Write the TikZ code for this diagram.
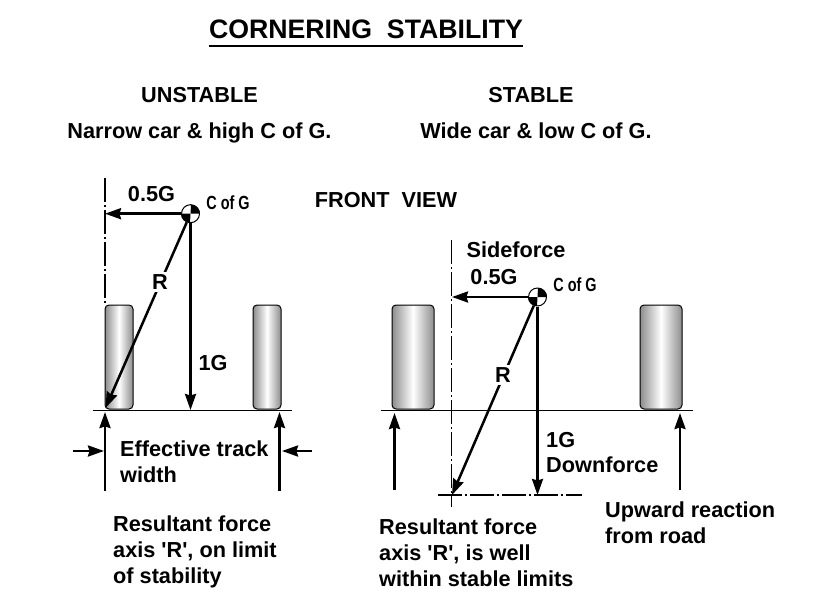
\documentclass[tikz,border=0pt]{standalone}
\usepackage{fontspec}
\setmainfont{Liberation Sans}[Ligatures=TeXOff]
\usetikzlibrary{arrows.meta}
\tikzset{
  lbl/.style={font=\bfseries\fontsize{21.7}{25.6}\selectfont, inner sep=0pt, align=left},
  coglbl/.style={font=\bfseries\fontsize{19}{23}\selectfont, xscale=.76, inner sep=0pt},
  wheel/.style={draw=black, line width=1pt, rounded corners=4pt, minimum height=104pt, inner sep=0pt, left color=black!45, right color=black!45, middle color=white},
  ground/.style={line width=1.3pt},
  axisline/.style={line width=1.2pt, dash pattern=on 24pt off 3pt on 2pt off 3pt},
  force/.style={line width=2.5pt, -{Stealth[length=16pt,width=11pt,inset=1.5pt]}},
  cogmark/.style={circle, draw=black, line width=1pt, fill=white, minimum size=18pt, inner sep=0pt}
}
\newcommand{\cogfill}[1]{%
  \fill[black] (#1.center) -- (#1.west) arc (180:90:9) -- cycle;
  \fill[black] (#1.center) -- (#1.east) arc (0:-90:9) -- cycle;
}
\begin{document}
\begin{tikzpicture}[x=1pt, y=-1pt, line join=round]
\useasboundingbox (0,0) rectangle (816,615);
% headings
\node[lbl, font=\bfseries\fontsize{26.7}{30}\selectfont] (title) at (366,29) {CORNERING\ \ STABILITY};
\coordinate (tl) at (209,46); \coordinate (tr) at (523,46);
\draw[line width=2.6pt] (tl) -- (tr);
\node[lbl] (unst) at (199.5,95) {UNSTABLE};
\node[lbl] (st) at (531,95) {STABLE};
\node[lbl] (narrow) at (199.5,133) {Narrow car \& high C of G.};
\node[lbl] (wide) at (536,131) {Wide car \& low C of G.};
\node[lbl] (front) at (386,200) {FRONT\ \ VIEW};
% unstable car
\node[wheel, minimum width=28pt] (wl1) at (119,357) {};
\node[wheel, minimum width=28pt] (wr1) at (267,357) {};
\coordinate (g1a) at (93,410.7); \coordinate (g1b) at (292,410.7);
\draw[ground] (g1a) -- (g1b);
\coordinate (ax1a) at (105,178); \coordinate (ax1b) at (105,305);
\draw[axisline] (ax1a) -- (ax1b);
\node[cogmark] (cg1) at (190.5,213.7) {};
\coordinate (sd1) at (105,213.7); \coordinate (rf1) at (105.5,408); \coordinate (dn1) at (190.5,410);
\draw[force] (cg1) -- (sd1);
\draw[force] (cg1) -- (rf1);
\draw[force] (cg1.south) -- (dn1);
\cogfill{cg1}
\node[lbl, fill=white, inner sep=3pt] (r1) at (160,282) {R};
\node[lbl] (g51) at (151.5,194) {0.5G};
\node[lbl] (one1) at (213,363) {1G};
\node[coglbl] (cl1) at (228,203) {C of G};
\foreach \a/\b in {105/up1,279.5/up2}{
  \coordinate (\b s) at (\a,491); \coordinate (\b e) at (\a,412);
  \draw[force] (\b s) -- (\b e);
}
\coordinate (tk1) at (73,451); \coordinate (tk2) at (104,451);
\coordinate (tk3) at (312,451); \coordinate (tk4) at (282,451);
\draw[force] (tk1) -- (tk2);
\draw[force] (tk3) -- (tk4);
\node[lbl, anchor=north west] (track) at (120,441) {Effective track\\width};
\node[lbl, anchor=north west] (res1) at (113,516) {Resultant force\\axis 'R', on limit\\of stability};
% stable car
\node[wheel, minimum width=42pt] (wl2) at (413,357) {};
\node[wheel, minimum width=42pt] (wr2) at (661,357) {};
\coordinate (g2a) at (381,410.7); \coordinate (g2b) at (693,410.7);
\draw[ground] (g2a) -- (g2b);
\coordinate (ax2a) at (451.5,240); \coordinate (ax2b) at (451.5,507);
\draw[axisline] (ax2a) -- (ax2b);
\coordinate (bs2a) at (438,495); \coordinate (bs2b) at (582,495);
\draw[axisline] (bs2a) -- (bs2b);
\node[cogmark] (cg2) at (537.5,297) {};
\coordinate (sd2) at (452,297); \coordinate (rf2) at (452,495); \coordinate (dn2) at (537.5,495);
\draw[force] (cg2) -- (sd2);
\draw[force] (cg2) -- (rf2);
\draw[force] (cg2.south) -- (dn2);
\cogfill{cg2}
\node[lbl, fill=white, inner sep=3pt] (r2) at (503,375) {R};
\node[lbl] (sf) at (516,250) {Sideforce};
\node[lbl] (g52) at (494,277) {0.5G};
\node[lbl, anchor=north west] (one2) at (546,432) {1G\\Downforce};
\node[coglbl] (cl2) at (575,285) {C of G};
\foreach \a/\b in {394.5/up3,680/up4}{
  \coordinate (\b s) at (\a,490); \coordinate (\b e) at (\a,413);
  \draw[force] (\b s) -- (\b e);
}
\node[lbl, anchor=north west] (upw) at (605,502) {Upward reaction\\from road};
\node[lbl, anchor=north west] (res2) at (379,519) {Resultant force\\axis 'R', is well\\within stable limits};
\end{tikzpicture}
\end{document}
